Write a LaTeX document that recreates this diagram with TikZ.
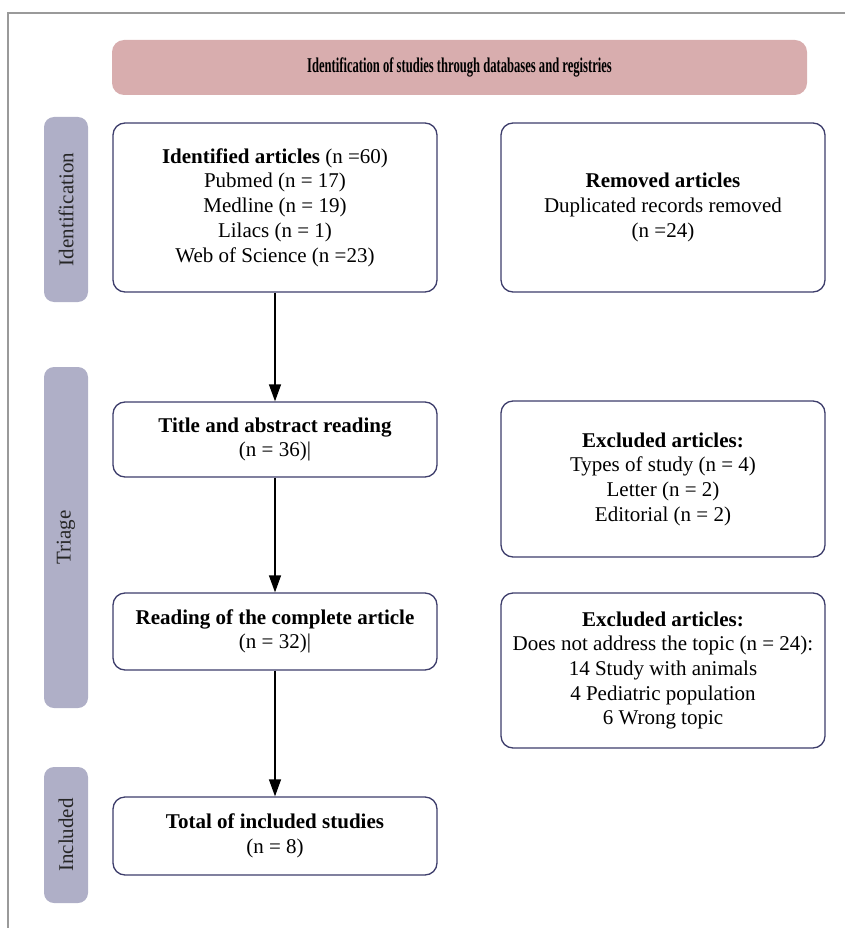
\documentclass[tikz,border=0pt]{standalone}
\usepackage{fontspec}
\setmainfont{Liberation Serif}
\usepackage{tikz}
\usetikzlibrary{arrows.meta,positioning}
\definecolor{header}{HTML}{D8ADAE}
\definecolor{phase}{HTML}{AFAFC7}
\definecolor{boxline}{HTML}{3D3D6B}
\definecolor{rule}{HTML}{9A9A9A}

\begin{document}
\begin{tikzpicture}[x=1pt, y=-1pt,
  rbox/.style={draw=boxline, line width=1.3pt, rounded corners=12pt, fill=white,
               minimum width=324pt, inner sep=0pt, align=center,
               font=\fontsize{21}{24.7}\selectfont},
  phasebar/.style={fill=phase, rounded corners=10pt, minimum height=44pt,
                   inner sep=0pt, rotate=90, text=black!85,
                   font=\fontsize{21}{24.7}\selectfont},
  flow/.style={-{Triangle[length=17pt,width=12pt]}, line width=1.3pt}
]
  \useasboundingbox (0,0) rectangle (845,928);
  \draw[rule, line width=1.5pt] (8,928) -- (8,13) -- (845,13);

  \node[fill=header, rounded corners=12pt, minimum width=695pt, minimum height=55pt,
        inner sep=0pt, font=\fontsize{21}{24.7}\selectfont] (head) at (459.5,67.5)
    {\scalebox{0.6}[1]{\bfseries Identification of studies through databases and registries}};

  \node[phasebar, minimum width=185pt] (idbar) at (66,209.5) {Identification};
  \node[phasebar, minimum width=341pt] (trbar) at (66,537.5) {Triage};
  \node[phasebar, minimum width=136pt] (inbar) at (66,835) {Included};

  \node[rbox, minimum height=169pt] (ident) at (275,207.5) {
    \textbf{Identified articles} (n =60)\\Pubmed (n = 17)\\Medline (n = 19)\\
    Lilacs (n = 1)\\Web of Science (n =23)
  };
  \node[rbox, minimum height=169pt] (removed) at (663,207.5) {
    \textbf{Removed articles}\\Duplicated records removed\\(n =24)
  };
  \node[rbox, minimum height=75pt] (title) at (275,439.5) {
    \textbf{Title and abstract reading}\\(n = 36)|
  };
  \node[rbox, minimum height=156pt] (excl1) at (663,479) {
    \textbf{Excluded articles:}\\Types of study (n = 4)\\Letter (n = 2)\\Editorial (n = 2)
  };
  \node[rbox, minimum height=77pt] (reading) at (275,631.5) {
    \textbf{Reading of the complete article}\\(n = 32)|
  };
  \node[rbox, minimum height=155pt] (excl2) at (663,670.5) {
    \textbf{Excluded articles:}\\Does not address the topic (n = 24):\\14 Study with animals\\
    4 Pediatric population\\6 Wrong topic
  };
  \node[rbox, minimum height=78pt] (total) at (275,836) {
    \textbf{Total of included studies}\\(n = 8)
  };

  \draw[flow] (ident) -- (title);
  \draw[flow] (title) -- (reading);
  \draw[flow] (reading) -- (total);
\end{tikzpicture}
\end{document}
